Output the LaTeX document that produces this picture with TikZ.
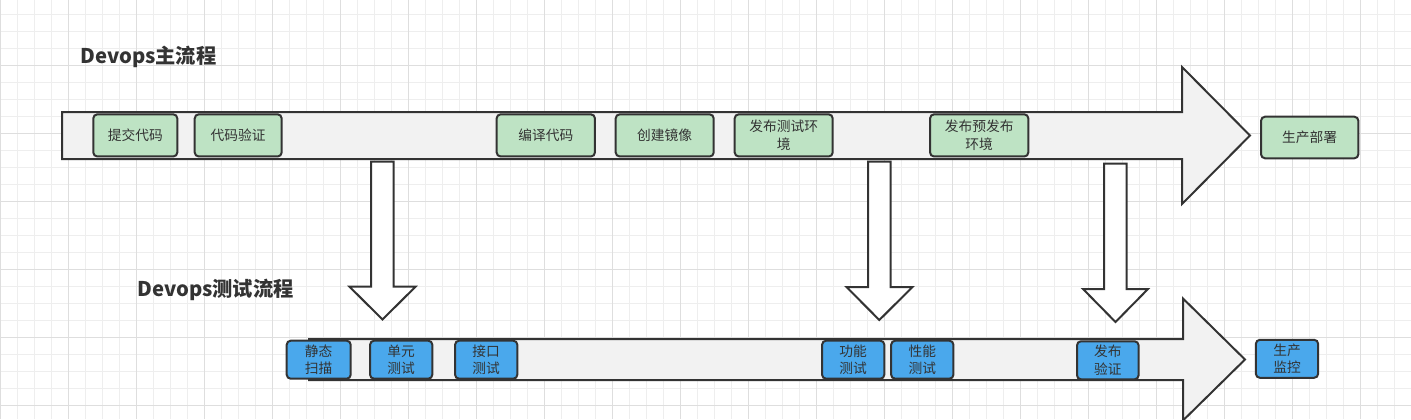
\documentclass[tikz,border=0pt]{standalone}
\usepackage{fontspec}
\setmainfont{Noto Sans CJK SC}

\definecolor{gridminor}{RGB}{238,238,238}
\definecolor{gridmajor}{RGB}{222,222,222}
\definecolor{strokedark}{RGB}{51,51,51}
\definecolor{arrowfill}{RGB}{242,242,242}
\definecolor{stagegreen}{RGB}{190,227,196}
\definecolor{stageblue}{RGB}{74,168,236}

\tikzset{every picture/.style={line width=0.75pt}}
\tikzset{
  minorgrid/.style={color=gridminor, line width=0.75pt},
  majorgrid/.style={color=gridmajor, line width=0.75pt},
  bigarrow/.style={draw=strokedark, fill=arrowfill, line width=1.5pt, line join=miter},
  downarrow/.style={draw=strokedark, fill=white, line width=1.5pt, line join=miter},
  stagebox/.style={draw=strokedark, line width=1.5pt, rounded corners=3pt, text=strokedark, align=center, inner sep=0pt, font=\fontsize{10.3pt}{13pt}\selectfont},
  greenbox/.style={stagebox, fill=stagegreen, minimum height=31.6pt},
  bluebox/.style={stagebox, fill=stageblue, minimum height=28.5pt, minimum width=46.7pt},
  titletext/.style={text=strokedark, inner sep=0pt, anchor=west, font=\fontsize{15.2pt}{18pt}\selectfont\bfseries}
}

\begin{document}
\begin{tikzpicture}[x=0.75pt,y=0.75pt,yscale=-1,xscale=1]
\useasboundingbox (0,0) rectangle (1411,419);

% Grid
\foreach \i in {0,...,83} \draw [minorgrid] (17*\i,0) -- (17*\i,419) ;
\foreach \j in {1,...,25} \draw [minorgrid] (0,17*\j-2.3) -- (1411,17*\j-2.3) ;
\foreach \i in {0,4,...,80} \draw [majorgrid] (17*\i,0) -- (17*\i,419) ;
\foreach \j in {4,8,...,24} \draw [majorgrid] (0,17*\j-2.3) -- (1411,17*\j-2.3) ;

%Shape: Right Arrow [main flow]
\draw [bigarrow] (62,112) -- (1182,112) -- (1182,67) -- (1250,135.5) -- (1182,204) -- (1182,159) -- (62,159) -- cycle ;
%Shape: Right Arrow [test flow]
\draw [bigarrow] (309,339) -- (1183,339) -- (1183,298.5) -- (1245,359.5) -- (1183,420.5) -- (1183,380) -- (309,380) -- cycle ;

%Shape: Down Arrow
\draw [downarrow] (371,161.7) -- (393.5,161.7) -- (393.5,286.7) -- (415.5,286.7) -- (382.5,319.5) -- (349.5,286.7) -- (371,286.7) -- cycle ;
%Shape: Down Arrow
\draw [downarrow] (868,161.7) -- (890.5,161.7) -- (890.5,287) -- (912.5,287) -- (879.3,320) -- (846.5,287) -- (868,287) -- cycle ;
%Shape: Down Arrow
\draw [downarrow] (1104,163.5) -- (1126.5,163.5) -- (1126.5,289) -- (1148,289) -- (1115.5,322) -- (1083,289) -- (1104,289) -- cycle ;

% Main flow stages
\node [greenbox, minimum width=63pt] (commit) at (135.3,135.4) {提交代码};
\node [greenbox, minimum width=65.2pt] (verify) at (238.2,135.4) {代码验证};
\node [greenbox, minimum width=73.7pt] (compile) at (545.8,135.4) {编译代码};
\node [greenbox, minimum width=73.5pt] (image) at (664.7,135.4) {创建镜像};
\node [greenbox, minimum width=73.5pt] (testenv) at (783.7,135.4) {发布测试环\\境};
\node [greenbox, minimum width=73.7pt] (preenv) at (979.2,135.4) {发布预发布\\环境};
\node [greenbox, minimum width=73pt, minimum height=31.2pt] (deploy) at (1309.7,137.5) {生产部署};

% Test flow stages
\node [bluebox, minimum width=48pt] (scan) at (318.7,359.7) {静态\\扫描};
\node [bluebox] (unittest) at (401.2,359.7) {单元\\测试};
\node [bluebox] (apitest) at (486.2,359.7) {接口\\测试};
\node [bluebox] (functest) at (853.2,359.7) {功能\\测试};
\node [bluebox] (perftest) at (922.3,359.7) {性能\\测试};
\node [bluebox, minimum width=46.2pt] (releasecheck) at (1107.8,360.3) {发布\\验证};
\node [bluebox] (monitor) at (1287,358.8) {生产\\监控};

% Text Node
\node [titletext] (maintitle) at (80,57) {Devops主流程};
% Text Node
\node [titletext] (testtitle) at (137,290) {Devops测试流程};

\end{tikzpicture}
\end{document}
